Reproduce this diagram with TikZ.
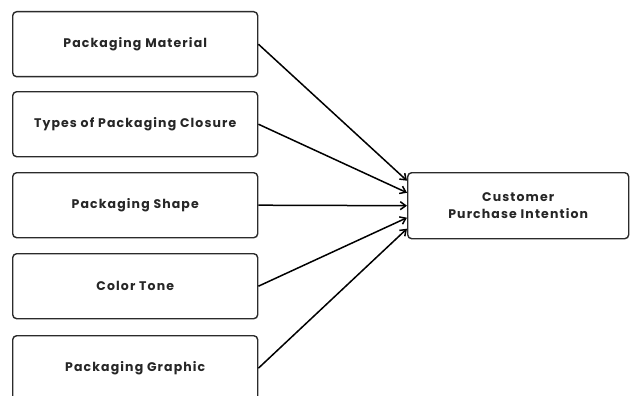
\documentclass[tikz,border=0pt]{standalone}
\usepackage{fontspec}
\setmainfont{Poppins}[BoldFont={* Bold},LetterSpace=9]
\usetikzlibrary{arrows.meta}
\definecolor{edge}{HTML}{2B2B2B}
\begin{document}
\begin{tikzpicture}[x=1pt,y=-1pt,
  factor/.style={draw=edge,line width=1.4pt,rounded corners=4pt,fill=white,
    minimum width=245pt,minimum height=65pt,inner sep=0pt,anchor=north west,
    font=\fontsize{12.5}{17}\selectfont\bfseries,text=black!85,align=center},
  link/.style={draw=black,line width=1.5pt,-{Straight Barb[length=5.5pt,width=8pt]}}]
  \clip (0,0) rectangle (640,396);
  \fill[white] (0,0) rectangle (640,396);
  \node[factor] (m) at (12,11) {Packaging Material};
  \node[factor] (c) at (12,91) {Types of Packaging Closure};
  \node[factor] (s) at (12,172) {Packaging Shape};
  \node[factor] (t) at (12,253) {Color Tone};
  \node[factor] (g) at (12,335) {Packaging Graphic};
  \node[factor,minimum width=221pt,minimum height=66pt] (p) at (407,172)
    {Customer\\Purchase Intention};
  \coordinate (p1) at ([yshift=25pt]p.west);
  \coordinate (p2) at ([yshift=13pt]p.west);
  \coordinate (p3) at (p.west);
  \coordinate (p4) at ([yshift=-12pt]p.west);
  \coordinate (p5) at ([yshift=-23pt]p.west);
  \draw[link] (m.east) -- (p1);
  \draw[link] (c.east) -- (p2);
  \draw[link] (s.east) -- (p3);
  \draw[link] (t.east) -- (p4);
  \draw[link] (g.east) -- (p5);
\end{tikzpicture}
\end{document}
